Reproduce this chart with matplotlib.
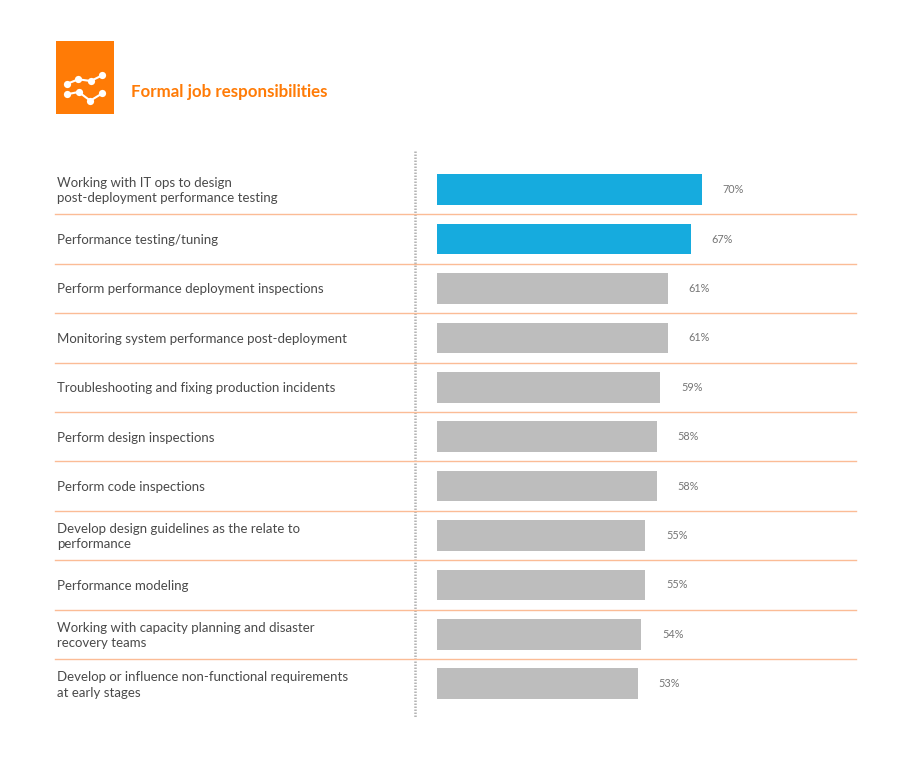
import matplotlib
matplotlib.use("Agg")
import matplotlib.pyplot as plt
from matplotlib.patches import Rectangle

plt.rcParams["font.family"] = ["Lato", "DejaVu Sans"]

# Chart data
categories = [
    "Working with IT ops to design\npost-deployment performance testing",
    "Performance testing/tuning",
    "Perform performance deployment inspections",
    "Monitoring system performance post-deployment",
    "Troubleshooting and fixing production incidents",
    "Perform design inspections",
    "Perform code inspections",
    "Develop design guidelines as the relate to\nperformance",
    "Performance modeling",
    "Working with capacity planning and disaster\nrecovery teams",
    "Develop or influence non-functional requirements\nat early stages",
]
values = [70, 67, 61, 61, 59, 58, 58, 55, 55, 54, 53]
highlighted = [True, True, False, False, False, False, False, False, False, False, False]
title = "Formal job responsibilities"

# Icon polylines
icon_top_x = [66.7, 78.3, 90.7, 102.3]
icon_top_y = [84, 79.3, 81, 75.3]
icon_bottom_x = [66.7, 78.7, 90.3, 102.3]
icon_bottom_y = [94.3, 92, 100.7, 93.3]

ORANGE = "#FF7B06"
BLUE = "#16ABDE"
GREY = "#BDBDBD"
SEPARATOR = "#FBBC96"
TEXT = "#4A4A4A"
VALUE_TEXT = "#757575"

W, H = 900, 760
PX_PER_PCT = 265 / 70

fig = plt.figure(figsize=(W / 100, H / 100), dpi=100, facecolor="white")

# Full-figure overlay in pixel coordinates for header, icon and rules
bg = fig.add_axes([0, 0, 1, 1])
bg.set_xlim(0, W)
bg.set_ylim(H, 0)
bg.axis("off")

bg.add_patch(Rectangle((55.5, 41), 58.5, 73, color=ORANGE, lw=0))
for xs, ys in [(icon_top_x, icon_top_y), (icon_bottom_x, icon_bottom_y)]:
    bg.plot(xs, ys, color="white", lw=1.5, marker="o", ms=5.2, mew=0)
bg.text(131, 91.5, title, color=ORANGE, fontsize=12.2, fontweight="bold", va="center", ha="left")
bg.plot([414.7, 414.7], [151, 718], color="#B4B4B4", lw=1.8, ls=(0, (0.6, 0.6)))

# Bars
top, bottom = 165.0, 708.5
ax = fig.add_axes([437 / W, 1 - bottom / H, 420 / W, (bottom - top) / H])
ax.patch.set_alpha(0)
ax.set_xlim(0, 420 / PX_PER_PCT)
ax.set_ylim(len(values) - 0.5, -0.5)
ax.axis("off")

colors = [BLUE if h else GREY for h in highlighted]
ax.barh(range(len(values)), values, height=0.62, color=colors, linewidth=0)

for i, (cat, val) in enumerate(zip(categories, values)):
    ax.text(val + 20.7 / PX_PER_PCT, i, f"{val}%", color=VALUE_TEXT, fontsize=7.8,
            va="center", ha="left")
    ax.annotate(cat, xy=(0, i), xytext=(57.3, -0.7), xycoords=("figure pixels", "data"),
                textcoords=("figure pixels", "offset points"), color=TEXT, fontsize=9.5,
                va="center", ha="left", linespacing=1.36)
    if i < len(values) - 1:
        ax.plot([-382 / PX_PER_PCT, 419 / PX_PER_PCT], [i + 0.5, i + 0.5], color=SEPARATOR,
                lw=1, clip_on=False)

fig.savefig("out.png", dpi=100, facecolor="white")
